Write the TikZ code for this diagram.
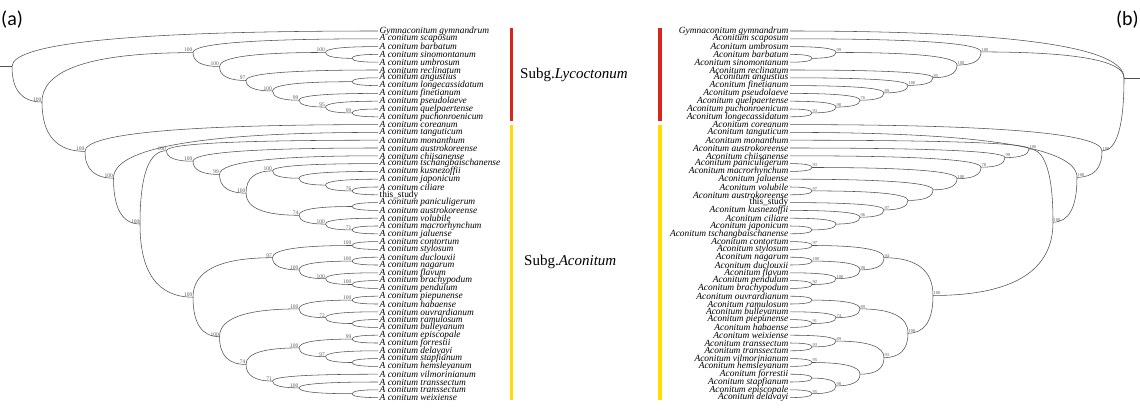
\documentclass[tikz,border=0pt]{standalone}
\usepackage{fontspec}
\setmainfont{Liberation Serif}
\newfontfamily\sansf{Carlito}
\usetikzlibrary{calc}
\definecolor{barred}{HTML}{D8261C}
\definecolor{baryel}{HTML}{FFDD00}
\definecolor{brc}{HTML}{505050}
\tikzset{
 brs/.style={draw=brc, line width=0.55pt},
 tiplab/.style={inner sep=0pt, font=\fontsize{9.4}{9.4}\selectfont\itshape},
 nlabR/.style={inner sep=0.4pt, anchor=south west, font=\fontsize{4.5}{4.5}\selectfont, text=black!65},
 nlabL/.style={inner sep=0.4pt, anchor=south east, font=\fontsize{5.5}{5.5}\selectfont, text=black!65},
 subg/.style={inner sep=0pt, anchor=west, font=\fontsize{15}{15}\selectfont},
 panel/.style={inner sep=0pt, font=\sansf\fontsize{20}{20}\selectfont},
}
\newcommand\brn[2]{\draw[brs] (#1) .. controls ($(#1)!0.6667!(#2 -| #1)$) and ($(#2)!0.6667!(#2 -| #1)$) .. (#2);}
\newcommand\jR[5]{%
 \coordinate (#1m) at ($(#3)!0.5!(#4)$);
 \coordinate (#1) at (#1m -| #2);
 \brn{#1}{#3}\brn{#1}{#4}%
 \if\relax\detokenize{#5}\relax\else\node[nlabR] (#1l) at (#1) {#5};\fi}
\newcommand\jL[5]{%
 \coordinate (#1m) at ($(#3)!0.5!(#4)$);
 \coordinate (#1) at (#1m -| #2);
 \brn{#1}{#3}\brn{#1}{#4}%
 \if\relax\detokenize{#5}\relax\else\node[nlabL] (#1l) at (#1) {#5};\fi}
\newcommand\tR[3]{\coordinate (#1) at (790,{31+7.8*#2}); \node[tiplab, anchor=east] (#1t) at (788.5,{31+7.8*#2}) {#3};}
\newcommand\tL[3]{\coordinate (#1) at (378,{31+7.8*#2}); \node[tiplab, anchor=west] (#1t) at (379.5,{31+7.8*#2}) {#3};}
\begin{document}
\begin{tikzpicture}[x=1pt,y=-1pt]
\useasboundingbox (0,0) rectangle (1140,410);
% columns
\coordinate (RX1) at (812,0); \coordinate (RX2) at (836,0); \coordinate (RX3) at (860,0);
\coordinate (RX4) at (884,0); \coordinate (RX5) at (908,0); \coordinate (RX6) at (933,0);
\coordinate (RX7) at (957,0); \coordinate (RX8) at (981,0); \coordinate (RX9) at (1005,0);
\coordinate (RX10) at (1029,0); \coordinate (RX11) at (1053,0); \coordinate (RX12) at (1077,0);
\coordinate (RX13) at (1102,0); \coordinate (RX14) at (1124,0); \coordinate (Redge) at (1140,0);
\coordinate (LX1) at (352,0); \coordinate (LX2) at (325.5,0); \coordinate (LX3) at (299,0);
\coordinate (LX4) at (272.5,0); \coordinate (LX5) at (246,0); \coordinate (LX6) at (219.5,0);
\coordinate (LX7) at (193,0); \coordinate (LX8) at (166.5,0); \coordinate (LX9) at (140,0);
\coordinate (LX10) at (113.5,0); \coordinate (LX11) at (85,0); \coordinate (LX12) at (42,0);
\coordinate (LX13) at (12,0); \coordinate (Ledge) at (0,0);
% panel letters
\node[panel, anchor=west] (pa) at (1,20) {(a)};
\node[panel, anchor=east] (pb) at (1139,20) {(b)};
% bars and subgenus labels
\fill[barred] (509.5,28) rectangle (513,121);
\fill[baryel] (509.5,125) rectangle (513,400);
\fill[barred] (658,28) rectangle (661.5,121);
\fill[baryel] (658,125) rectangle (661.5,400);
\node[subg] (sl) at (520,75) {Subg.\textit{Lycoctonum}};
\node[subg] (sa) at (524,262) {Subg.\textit{Aconitum}};
% ---------------- right tree tips
\tR{R0}{0}{Gymnaconitum gymnandrum}
\tR{R1}{1}{Aconitum scaposum}
\tR{R2}{2}{Aconitum umbrosum}
\tR{R3}{3}{Aconitum barbatum}
\tR{R4}{4}{Aconitum sinomontanum}
\tR{R5}{5}{Aconitum reclinatum}
\tR{R6}{6}{Aconitum angustius}
\tR{R7}{7}{Aconitum finetianum}
\tR{R8}{8}{Aconitum pseudolaeve}
\tR{R9}{9}{Aconitum quelpaertense}
\tR{R10}{10}{Aconitum puchonroenicum}
\tR{R11}{11}{Aconitum longecassidatum}
\tR{R12}{12}{Aconitum coreanum}
\tR{R13}{13}{Aconitum tanguticum}
\tR{R14}{14}{Aconitum monanthum}
\tR{R15}{15}{Aconitum austrokoreense}
\tR{R16}{16}{Aconitum chiisanense}
\tR{R17}{17}{Aconitum paniculigerum}
\tR{R18}{18}{Aconitum macrorhynchum}
\tR{R19}{19}{Aconitum jaluense}
\tR{R20}{20}{Aconitum volubile}
\tR{R21}{21}{Aconitum austrokoreense}
\tR{R22}{22}{\upshape this\_study}
\tR{R23}{23}{Aconitum kusnezoffii}
\tR{R24}{24}{Aconitum ciliare}
\tR{R25}{25}{Aconitum japonicum}
\tR{R26}{26}{Aconitum tschangbaischanense}
\tR{R27}{27}{Aconitum contortum}
\tR{R28}{28}{Aconitum stylosum}
\tR{R29}{29}{Aconitum nagarum}
\tR{R30}{30}{Aconitum duclouxii}
\tR{R31}{31}{Aconitum flavum}
\tR{R32}{32}{Aconitum pendulum}
\tR{R33}{33}{Aconitum brachypodum}
\tR{R34}{34}{Aconitum ouvrardianum}
\tR{R35}{35}{Aconitum ramulosum}
\tR{R36}{36}{Aconitum bulleyanum}
\tR{R37}{37}{Aconitum piepunense}
\tR{R38}{38}{Aconitum habaense}
\tR{R39}{39}{Aconitum weixiense}
\tR{R40}{40}{Aconitum transsectum}
\tR{R41}{41}{Aconitum transsectum}
\tR{R42}{42}{Aconitum vilmorinianum}
\tR{R43}{43}{Aconitum hemsleyanum}
\tR{R44}{44}{Aconitum forrestii}
\tR{R45}{45}{Aconitum stapfianum}
\tR{R46}{46}{Aconitum episcopale}
\tR{R47}{47}{Aconitum delavayi}
% right tree joins
\jR{rbs}{RX1}{R3}{R4}{}
\jR{rAa}{RX2}{R2}{rbs}{99}
\jR{rpl}{RX1}{R10}{R11}{93}
\jR{rAb}{RX2}{R9}{rpl}{98}
\jR{rAc}{RX3}{R8}{rAb}{76}
\jR{rAd}{RX4}{R7}{rAc}{89}
\jR{rAe}{RX5}{R6}{rAd}{100}
\jR{rAf}{RX6}{R5}{rAe}{85}
\jR{rAg}{RX7}{rAa}{rAf}{100}
\jR{rAh}{RX8}{R1}{rAg}{100}
\jR{rpm}{RX1}{R17}{R18}{93}
\jR{rva}{RX1}{R20}{R21}{97}
\jR{rjt}{RX1}{R25}{R26}{}
\jR{rc}{RX2}{R24}{rjt}{}
\jR{rBa}{RX3}{R23}{rc}{96}
\jR{rBb}{RX4}{R22}{rBa}{97}
\jR{rBc}{RX5}{rva}{rBb}{}
\jR{rBd}{RX6}{R19}{rBc}{}
\jR{rBe}{RX7}{rpm}{rBd}{100}
\jR{rBf}{RX8}{R16}{rBe}{78}
\jR{rBg}{RX9}{R15}{rBf}{99}
\jR{rBh}{RX10}{R14}{rBg}{100}
\jR{rcs}{RX1}{R27}{R28}{97}
\jR{rnd}{RX1}{R29}{R30}{100}
\jR{rpb}{RX1}{R32}{R33}{92}
\jR{rCa}{RX2}{R31}{rpb}{100}
\jR{rCb}{RX3}{rnd}{rCa}{90}
\jR{rCc}{RX4}{rcs}{rCb}{94}
\jR{ror}{RX1}{R34}{R35}{}
\jR{rph}{RX1}{R37}{R38}{91}
\jR{rCd}{RX2}{R36}{rph}{74}
\jR{rCe}{RX3}{ror}{rCd}{89}
\jR{rtt}{RX1}{R40}{R41}{93}
\jR{rDa}{RX2}{R39}{rtt}{89}
\jR{rvh}{RX1}{R42}{R43}{95}
\jR{rfs}{RX1}{R44}{R45}{}
\jR{red}{RX1}{R46}{R47}{95}
\jR{rDb}{RX2}{rfs}{red}{98}
\jR{rDc}{RX3}{rvh}{rDb}{}
\jR{rDd}{RX4}{rDa}{rDc}{93}
\jR{rDe}{RX5}{rCe}{rDd}{100}
\jR{rEa}{RX6}{rCc}{rDe}{100}
\jR{rFa}{RX11}{rBh}{rEa}{100}
\jR{rGa}{RX12}{R13}{rFa}{100}
\jR{rHa}{RX13}{R12}{rGa}{100}
\coordinate (rrootm) at ($0.3333*(R0)+0.3333*(rAh)+0.3333*(rHa)$);
\coordinate (rroot) at (rrootm -| RX14);
\brn{rroot}{R0}\brn{rroot}{rAh}\brn{rroot}{rHa}
\coordinate (rstub) at (rroot -| Redge);
\draw[brs] (rroot) -- (rstub);
% ---------------- left tree tips
\tL{L0}{0}{Gymnaconitum gymnandrum}
\tL{L1}{1}{A conitum scaposum}
\tL{L2}{2}{A conitum barbatum}
\tL{L3}{3}{A conitum sinomontanum}
\tL{L4}{4}{A conitum umbrosum}
\tL{L5}{5}{A conitum reclinatum}
\tL{L6}{6}{A conitum angustius}
\tL{L7}{7}{A conitum longecassidatum}
\tL{L8}{8}{A conitum finetianum}
\tL{L9}{9}{A conitum pseudolaeve}
\tL{L10}{10}{A conitum quelpaertense}
\tL{L11}{11}{A conitum puchonroenicum}
\tL{L12}{12}{A conitum coreanum}
\tL{L13}{13}{A conitum tanguticum}
\tL{L14}{14}{A conitum monanthum}
\tL{L15}{15}{A conitum austrokoreense}
\tL{L16}{16}{A conitum chiisanense}
\tL{L17}{17}{A conitum tschangbaischanense}
\tL{L18}{18}{A conitum kusnezoffii}
\tL{L19}{19}{A conitum japonicum}
\tL{L20}{20}{A conitum ciliare}
\tL{L21}{21}{\upshape this\_study}
\tL{L22}{22}{A conitum paniculigerum}
\tL{L23}{23}{A conitum austrokoreense}
\tL{L24}{24}{A conitum volubile}
\tL{L25}{25}{A conitum macrorhynchum}
\tL{L26}{26}{A conitum jaluense}
\tL{L27}{27}{A conitum contortum}
\tL{L28}{28}{A conitum stylosum}
\tL{L29}{29}{A conitum duclouxii}
\tL{L30}{30}{A conitum nagarum}
\tL{L31}{31}{A conitum flavum}
\tL{L32}{32}{A conitum brachypodum}
\tL{L33}{33}{A conitum pendulum}
\tL{L34}{34}{A conitum piepunense}
\tL{L35}{35}{A conitum habaense}
\tL{L36}{36}{A conitum ouvrardianum}
\tL{L37}{37}{A conitum ramulosum}
\tL{L38}{38}{A conitum bulleyanum}
\tL{L39}{39}{A conitum episcopale}
\tL{L40}{40}{A conitum forrestii}
\tL{L41}{41}{A conitum delavayi}
\tL{L42}{42}{A conitum stapfianum}
\tL{L43}{43}{A conitum hemsleyanum}
\tL{L44}{44}{A conitum vilmorinianum}
\tL{L45}{45}{A conitum transsectum}
\tL{L46}{46}{A conitum transsectum}
\tL{L47}{47}{A conitum weixiense}
% left tree joins
\jL{lsu}{LX1}{L3}{L4}{}
\jL{lAa}{LX2}{L2}{lsu}{100}
\jL{lal}{LX1}{L6}{L7}{}
\jL{lqp}{LX1}{L10}{L11}{99}
\jL{lAb}{LX2}{L9}{lqp}{95}
\jL{lAc}{LX3}{L8}{lAb}{99}
\jL{lAd}{LX4}{lal}{lAc}{100}
\jL{lAe}{LX5}{L5}{lAd}{97}
\jL{lAf}{LX6}{lAa}{lAe}{100}
\jL{lAg}{LX7}{L1}{lAf}{100}
\jL{lBa}{LX1}{L20}{L21}{76}
\jL{lBb}{LX2}{L19}{lBa}{}
\jL{lBc}{LX3}{L18}{lBb}{}
\jL{lBd}{LX4}{L17}{lBc}{100}
\jL{lpa}{LX1}{L22}{L23}{}
\jL{lBe}{LX1}{L25}{L26}{71}
\jL{lBf}{LX2}{L24}{lBe}{100}
\jL{lBg}{LX3}{lpa}{lBf}{74}
\jL{lBh}{LX5}{lBd}{lBg}{100}
\jL{lBi}{LX6}{L16}{lBh}{99}
\jL{lBj}{LX7}{L15}{lBi}{100}
\jL{lBk}{LX8}{L14}{lBj}{100}
\jL{lcs}{LX1}{L27}{L28}{100}
\jL{ldn}{LX1}{L29}{L30}{100}
\jL{lbp}{LX1}{L32}{L33}{100}
\jL{lCa}{LX2}{L31}{lbp}{100}
\jL{lCb}{LX3}{ldn}{lCa}{100}
\jL{lCc}{LX4}{lcs}{lCb}{97}
\jL{lph}{LX1}{L34}{L35}{100}
\jL{lrb}{LX1}{L37}{L38}{}
\jL{lCd}{LX2}{L36}{lrb}{72}
\jL{lCe}{LX3}{lph}{lCd}{100}
\jL{lef}{LX1}{L39}{L40}{99}
\jL{lsh}{LX1}{L42}{L43}{}
\jL{lDa}{LX2}{L41}{lsh}{97}
\jL{lDb}{LX3}{lef}{lDa}{100}
\jL{ltw}{LX1}{L46}{L47}{}
\jL{lDc}{LX3}{L45}{ltw}{100}
\jL{lDd}{LX4}{L44}{lDc}{71}
\jL{lDe}{LX5}{lDb}{lDd}{74}
\jL{lCf}{LX6}{lCe}{lDe}{100}
\jL{lCg}{LX7}{lCc}{lCf}{100}
\jL{lEa}{LX9}{lBk}{lCg}{100}
\jL{lFa}{LX10}{L13}{lEa}{100}
\jL{lGa}{LX11}{L12}{lFa}{100}
\jL{lHa}{LX12}{lAg}{lGa}{100}
\jL{lroot}{LX13}{L0}{lHa}{}
\coordinate (lstub) at (lroot -| Ledge);
\draw[brs] (lroot) -- (lstub);
\end{tikzpicture}
\end{document}
